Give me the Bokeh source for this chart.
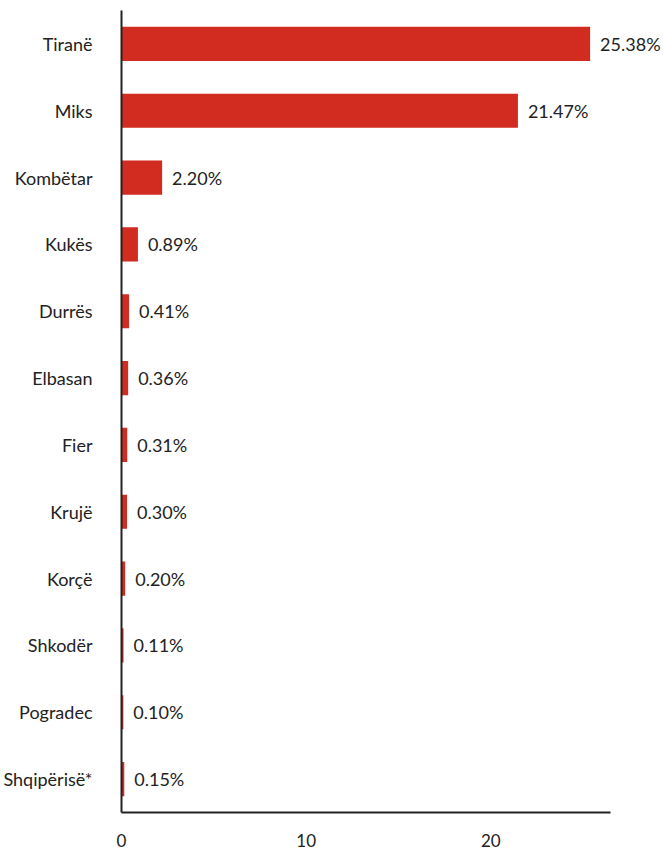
from bokeh.plotting import figure
from bokeh.models import ColumnDataSource, FactorRange, Range1d, FixedTicker
from bokeh.core.properties import value
from bokeh.embed import file_html
from bokeh.resources import INLINE

categories = ["Tiranë", "Miks", "Kombëtar", "Kukës", "Durrës", "Elbasan",
              "Fier", "Krujë", "Korçë", "Shkodër", "Pogradec", "Shqipërisë*"]
shares = [25.38, 21.47, 2.20, 0.89, 0.41, 0.36, 0.31, 0.30, 0.20, 0.11, 0.10, 0.15]
share_labels = ["25.38%", "21.47%", "2.20%", "0.89%", "0.41%", "0.36%",
                "0.31%", "0.30%", "0.20%", "0.11%", "0.10%", "0.15%"]
x_ticks = [0, 10, 20]

FONT = "Lato"
TXT = "#222222"
BAR = "#d22b1f"

src = ColumnDataSource(dict(cat=categories, val=shares, lab=share_labels))

p = figure(width=662, height=850, output_backend="svg", toolbar_location=None,
           y_range=FactorRange(factors=categories[::-1], range_padding=0),
           x_range=Range1d(0, 29.3))
p.min_border_left = 118
p.min_border_right = 0
p.min_border_top = 10
p.min_border_bottom = 38
p.outline_line_color = None
p.grid.grid_line_color = None
p.background_fill_color = "white"

p.hbar(y="cat", right="val", left=0, height=0.51, source=src,
       fill_color=BAR, line_color=None)
p.text(x="val", y="cat", text="lab", source=src, x_offset=10,
       text_font=value(FONT), text_font_size="18px", text_color=TXT,
       text_baseline="middle", text_align="left")

xa = p.xaxis[0]
xa.ticker = FixedTicker(ticks=x_ticks)
xa.bounds = (0, 26.5)
xa.major_tick_line_color = None
xa.minor_tick_line_color = None
xa.major_tick_out = 0
xa.major_tick_in = 0
xa.axis_line_color = TXT
xa.axis_line_width = 2
xa.major_label_text_font = FONT
xa.major_label_text_font_size = "17px"
xa.major_label_text_color = TXT
xa.major_label_standoff = 21

ya = p.yaxis[0]
ya.major_tick_line_color = None
ya.minor_tick_line_color = None
ya.major_tick_out = 0
ya.major_tick_in = 0
ya.axis_line_color = TXT
ya.axis_line_width = 2
ya.major_label_text_font = FONT
ya.major_label_text_font_size = "18px"
ya.major_label_text_color = TXT
ya.major_label_standoff = 29

open("out.html", "w").write(file_html(p, INLINE))
